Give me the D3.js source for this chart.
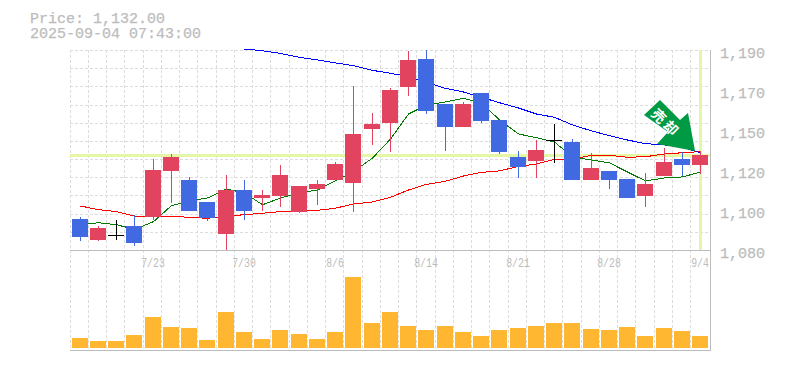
<!DOCTYPE html>
<html>
<head>
<meta charset="utf-8">
<title>Price chart</title>
<script src="https://cdn.jsdelivr.net/npm/d3@7"></script>
<style>
  html, body { margin: 0; padding: 0; background: #fff; }
  svg { display: block; }
  text { font-family: "Liberation Mono", monospace; fill: #bcbcbc; }
  text.big { stroke: #bcbcbc; stroke-width: 0.25; }
</style>
</head>
<body>
<svg id="chart" width="785" height="370"></svg>
<script>
  const currentPrice = 1132;
  const priceLabel = "Price: 1,132.00";
  const timeLabel = "2025-09-04 07:43:00";
  const arrowLabel = "売却";

  const opens = [1097, 1085.5, 1088, 1093, 1098, 1123.5, 1118.5, 1106.5, 1089, 1113, 1108.5, 1109.5, 1101, 1113.5, 1118.5, 1117, 1146.5, 1150, 1169.5, 1185, 1160.5, 1147.5, 1166.5, 1151.5, 1131, 1129, 1140.5, 1139.5, 1118.5, 1123.5, 1119, 1109.5, 1120.5, 1130, 1127];
  const closes = [1087, 1092, 1088, 1084, 1124, 1131, 1101.5, 1097.5, 1113, 1101.5, 1110.5, 1121.5, 1115, 1116.5, 1127.5, 1144, 1149.5, 1168, 1184.5, 1156.5, 1147.5, 1160.5, 1151, 1134, 1125.5, 1135, 1140.5, 1118.5, 1125, 1118.5, 1108.5, 1116.5, 1128.5, 1127, 1132];
  const highs = [1098, 1093, 1096.5, 1099, 1130, 1133, 1120, 1106.5, 1121, 1118.5, 1113, 1127, 1115, 1118.5, 1128.5, 1170, 1155.5, 1169, 1189.5, 1190, 1160.5, 1161.5, 1166.5, 1151.5, 1134.5, 1140.5, 1149.5, 1141, 1133.5, 1123.5, 1119, 1122.5, 1136, 1134, 1134.5];
  const lows = [1085, 1085, 1085.5, 1082, 1096.5, 1106, 1101.5, 1096, 1080, 1096.5, 1101.5, 1103.5, 1100.5, 1105, 1118.5, 1101, 1138, 1134, 1164.5, 1155, 1134.5, 1147.5, 1150, 1133, 1119.5, 1119.5, 1128, 1118.5, 1118.5, 1113.5, 1108.5, 1103.5, 1120.5, 1120.5, 1122];

  const volumes = [10, 7, 7, 13, 31, 21, 20, 8, 36, 16, 9, 18, 14, 9, 16, 71, 25, 36, 22, 18, 22, 16, 12, 18, 20, 22, 25, 25, 19, 18, 21, 12, 20, 17, 12];

  const maShort = [1093.8, 1095, 1093.9, 1091.4, 1095.6, 1104.4, 1107, 1108.6, 1113.5, 1111.4, 1104.9, 1108.6, 1111.4, 1113, 1118.1, 1123.1, 1130.6, 1141, 1154.8, 1159.8, 1161.4, 1163.4, 1161, 1151.5, 1143.8, 1141.8, 1139.4, 1131.2, 1129.5, 1127.9, 1122.9, 1118, 1119.6, 1120.2, 1122.9];
  const maMiddle = [1104.2, 1102.2, 1101.1, 1098.7, 1098.5, 1098.5, 1098, 1097.4, 1098.7, 1099.4, 1100.2, 1101.1, 1101.5, 1101.8, 1103, 1105.3, 1106.4, 1109, 1113, 1116.1, 1117.8, 1120.7, 1122.7, 1123.5, 1126, 1127.3, 1129.9, 1130, 1132.1, 1132.1, 1131, 1131.3, 1132.8, 1133.5, 1134.1];
  const maLong = [null, null, null, null, null, null, null, null, null, 1190.5, 1189.6, 1188.1, 1186, 1184.5, 1182.9, 1181.4, 1178.8, 1177.2, 1175.3, 1172.2, 1168.9, 1166.9, 1164, 1161, 1158.1, 1154.8, 1153, 1148.8, 1145.5, 1142.9, 1140.5, 1138.5, 1137.8, 1136.5, 1133.5];

  const priceTicks = [1190, 1168, 1146, 1124, 1102, 1080];
  const priceGrid = d3.range(1080, 1191, 10);
  const dateLabels = [[4, "7/23"], [9, "7/30"], [14, "8/6"], [19, "8/14"], [24, "8/21"], [29, "8/28"], [34, "9/4"]];

  const colors = {
    up: "#e2435f",
    down: "#4169e1",
    flat: "#000",
    grid: "#dcdcdc",
    axis: "#bcbcbc",
    marker: "#e5f7a6",
    volume: "#ffb732",
    arrow: "#009944"
  };

  const svg = d3.select("#chart");
  const plot = { left: 70, right: 709, top: 50, bottom: 250, volumeBottom: 350 };

  const x = d3.scaleBand()
    .domain(d3.range(opens.length))
    .range([plot.left, plot.right]);
  const y = d3.scaleLinear().domain([1080, 1190]).range([plot.bottom, plot.top]);
  const yVolume = d3.scaleLinear().domain([0, 100]).range([348, 248]);

  const px = (v) => Math.round(v);
  const bodyLeft = (i) => Math.floor(x(i)) + 2;
  const centre = (i) => bodyLeft(i) + 8;

  // grid
  const grid = svg.append("g")
    .attr("stroke", colors.grid)
    .attr("stroke-dasharray", "3,2")
    .attr("shape-rendering", "crispEdges");

  grid.selectAll("line.h")
    .data(priceGrid.filter((d) => d > 1080))
    .join("line")
    .attr("x1", plot.left)
    .attr("x2", plot.right)
    .attr("y1", (d) => px(y(d)) + 0.5)
    .attr("y2", (d) => px(y(d)) + 0.5);

  grid.selectAll("line.v")
    .data(x.domain())
    .join("line")
    .attr("x1", (d) => Math.floor(x(d)) + 0.5)
    .attr("x2", (d) => Math.floor(x(d)) + 0.5)
    .attr("y1", plot.top)
    .attr("y2", plot.volumeBottom);

  // current price and current date markers
  svg.append("line")
    .attr("x1", plot.left)
    .attr("x2", plot.right + 1)
    .attr("y1", y(currentPrice))
    .attr("y2", y(currentPrice))
    .attr("stroke", colors.marker)
    .attr("stroke-width", 3)
    .attr("shape-rendering", "crispEdges");

  svg.append("line")
    .attr("x1", centre(34) + 0.5)
    .attr("x2", centre(34) + 0.5)
    .attr("y1", plot.top)
    .attr("y2", plot.bottom)
    .attr("stroke", colors.marker)
    .attr("stroke-width", 3)
    .attr("shape-rendering", "crispEdges");

  // moving averages
  const maLine = d3.line()
    .defined((d) => d !== null)
    .x((d, i) => centre(i) + 0.5)
    .y((d) => y(d));

  [[maMiddle, "#ff0000"], [maShort, "#007a00"], [maLong, "#0000ff"]].forEach(([values, color]) => {
    svg.append("path")
      .attr("d", maLine(values))
      .attr("fill", "none")
      .attr("stroke", color)
      .attr("stroke-width", 1)
      .attr("shape-rendering", "crispEdges");
  });

  // candles
  const candleColor = (i) => {
    if (closes[i] > opens[i]) return colors.up;
    if (closes[i] < opens[i]) return colors.down;
    return colors.flat;
  };

  const candles = svg.append("g").attr("shape-rendering", "crispEdges");

  candles.selectAll("rect.wick")
    .data(x.domain())
    .join("rect")
    .attr("class", "wick")
    .attr("x", (i) => centre(i))
    .attr("width", 1)
    .attr("y", (i) => px(y(highs[i])))
    .attr("height", (i) => px(y(lows[i])) - px(y(highs[i])))
    .attr("fill", candleColor);

  candles.selectAll("rect.body")
    .data(x.domain())
    .join("rect")
    .attr("class", "body")
    .attr("x", bodyLeft)
    .attr("width", 16)
    .attr("y", (i) => px(y(Math.max(opens[i], closes[i]))))
    .attr("height", (i) => Math.max(1, px(y(Math.min(opens[i], closes[i]))) - px(y(Math.max(opens[i], closes[i])))))
    .attr("fill", candleColor);

  // volume
  svg.append("g")
    .attr("shape-rendering", "crispEdges")
    .selectAll("rect")
    .data(volumes)
    .join("rect")
    .attr("x", (d, i) => bodyLeft(i))
    .attr("width", 16)
    .attr("y", (d) => yVolume(d))
    .attr("height", (d) => yVolume(0) - yVolume(d))
    .attr("fill", colors.volume);

  // frame
  const frame = svg.append("g")
    .attr("stroke", colors.axis)
    .attr("shape-rendering", "crispEdges");

  [plot.bottom, plot.volumeBottom].forEach((v) => {
    frame.append("line")
      .attr("x1", plot.left)
      .attr("x2", plot.right + 1)
      .attr("y1", v + 0.5)
      .attr("y2", v + 0.5);
  });

  frame.append("line")
    .attr("x1", plot.right + 1.5)
    .attr("x2", plot.right + 1.5)
    .attr("y1", plot.top)
    .attr("y2", plot.volumeBottom + 1);

  // labels
  svg.append("text").attr("class", "big").attr("x", 30).attr("y", 23).attr("font-size", 15).text(priceLabel);
  svg.append("text").attr("class", "big").attr("x", 30).attr("y", 38).attr("font-size", 15).text(timeLabel);

  svg.selectAll("text.price")
    .data(priceTicks)
    .join("text")
    .attr("class", "price big")
    .attr("x", 720)
    .attr("y", (d) => y(d) + 8)
    .attr("font-size", 15)
    .text((d) => d3.format(",")(Math.round(d / 10) * 10));

  // date labels are narrower than the font, so squeeze them sideways
  svg.selectAll("text.date")
    .data(dateLabels)
    .join("text")
    .attr("class", "date")
    .attr("text-anchor", "middle")
    .attr("transform", (d) => `translate(${centre(d[0])},267) scale(0.82,1)`)
    .attr("font-size", 12)
    .text((d) => d[1]);

  // signal arrow, placed relative to the last candle
  const tipX = centre(34) - 5;
  const tipY = y(highs[34]);
  const arrowShape = [[-35, -51], [-51, -36], [-27, -19], [-38, -7], [0, 0], [-7, -38], [-15, -31]];

  svg.append("polygon")
    .attr("points", arrowShape.map(([dx, dy]) => [tipX + dx, tipY + dy].join(",")).join(" "))
    .attr("fill", colors.arrow);

  svg.append("text")
    .attr("transform", `translate(${tipX - 28.5},${tipY - 28.5}) rotate(45)`)
    .attr("text-anchor", "middle")
    .attr("dominant-baseline", "central")
    .attr("font-size", 14)
    .attr("font-weight", "bold")
    .attr("letter-spacing", 3)
    .style("font-family", "'Noto Sans CJK JP'")
    .style("fill", "#fff")
    .text(arrowLabel);
</script>
</body>
</html>
